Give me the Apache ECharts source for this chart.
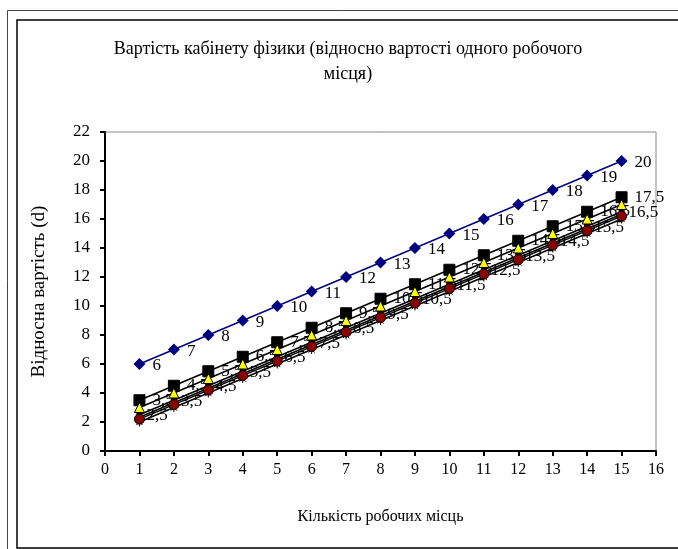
<!DOCTYPE html>
<html><head><meta charset="utf-8">
<script src="https://cdn.jsdelivr.net/npm/echarts@6/dist/echarts.min.js"></script>
<style>html,body{margin:0;padding:0;background:#fff}#c{width:678px;height:549px}</style>
</head><body><div id="c"></div>
<script>
const places = [1,2,3,4,5,6,7,8,9,10,11,12,13,14,15];
const sDiamond = [6,7,8,9,10,11,12,13,14,15,16,17,18,19,20];
const sSquare = [3.5,4.5,5.5,6.5,7.5,8.5,9.5,10.5,11.5,12.5,13.5,14.5,15.5,16.5,17.5];
const sTriangle = [3,4,5,6,7,8,9,10,11,12,13,14,15,16,17];
const sCross = [2.5,3.5,4.5,5.5,6.5,7.5,8.5,9.5,10.5,11.5,12.5,13.5,14.5,15.5,16.5];
const sPlus = [2.33,3.33,4.33,5.33,6.33,7.33,8.33,9.33,10.33,11.33,12.33,13.33,14.33,15.33,16.33];
const sCircle = [2.2,3.2,4.2,5.2,6.2,7.2,8.2,9.2,10.2,11.2,12.2,13.2,14.2,15.2,16.2];
const sStar = [2,3,4,5,6,7,8,9,10,11,12,13,14,15,16];
const xTicks = [0,1,2,3,4,5,6,7,8,9,10,11,12,13,14,15,16];
const yTicks = [0,2,4,6,8,10,12,14,16,18,20,22];

const font = 'Liberation Serif';
const pair = arr => places.map((x,i)=>[x,arr[i]]);
const fmt = p => String(p.value[1]).replace('.', ',');
const lbl = (show, pos, dist, off) => ({show, position:pos||'right', distance:dist==null?7:dist, offset:off||[0,1], fontFamily:font, fontSize:17, color:'#000', formatter: fmt});
const starPath = 'path://M0,-10 L0,10 M-10,0 L10,0 M-7,-7 L7,7 M-7,7 L7,-7';
function blk(name, data, symbol, size, color, label, z){
  return {name, type:'line', data:pair(data), symbol, symbolSize:size,
    lineStyle:{color:'#000', width:1.5},
    itemStyle:{color:color, borderColor:'#000', borderWidth:1},
    label:label, z:z};
}
const chart = echarts.init(document.getElementById('c'));
chart.setOption({
  animation:false,
  backgroundColor:'#fff',
  title:{text:'Вартість кабінету фізики (відносно вартості одного робочого\nмісця)', left:343, top:32, textAlign:'center',
    textStyle:{fontFamily:font, fontSize:18, fontWeight:'normal', color:'#000', lineHeight:25}},
  graphic:[
    {type:'rect', shape:{x:7.5,y:10.5,width:700,height:600}, style:{fill:'none', stroke:'#444', lineWidth:1}},
    {type:'rect', shape:{x:17,y:20,width:700,height:528}, style:{fill:'none', stroke:'#000', lineWidth:1.5}}
  ],
  grid:{left:105, right:22, top:132, bottom:98, show:true, borderColor:'#888', borderWidth:1},
  xAxis:{type:'value', min:0, max:16, interval:1,
    name:'Кількість робочих місць', nameLocation:'middle', nameGap:58,
    nameTextStyle:{fontFamily:font, fontSize:16, color:'#000'},
    axisLine:{show:true, lineStyle:{color:'#000', width:2}},
    axisTick:{show:true, length:5, lineStyle:{color:'#000', width:2}},
    axisLabel:{fontFamily:font, fontSize:16, color:'#000', margin:11, formatter:v=>xTicks.includes(v)?String(v):''},
    splitLine:{show:false}},
  yAxis:{type:'value', min:0, max:22, interval:2,
    name:'Відносна вартість (d)', nameLocation:'middle', nameGap:56,
    nameTextStyle:{fontFamily:font, fontSize:19, color:'#000'},
    axisLine:{show:true, lineStyle:{color:'#000', width:2}},
    axisTick:{show:true, length:5, lineStyle:{color:'#000', width:2}},
    axisLabel:{fontFamily:font, fontSize:17, color:'#000', margin:15, formatter:v=>yTicks.includes(v)?String(v):''},
    splitLine:{show:false}},
  series:[
    blk('s4', sCross, 'rect', 5, '#000', lbl(true,'right',4,[0,1]), 1),
    blk('s7', sStar, starPath, 9, '#000', {show:false}, 3),
    blk('s5', sPlus, 'triangle', 7, '#000', {show:false}, 3),
    blk('s6', sCircle, 'circle', 10, '#8b0000', {show:false}, 3),
    blk('s3', sTriangle, 'triangle', 10, '#ffff00', {show:false}, 3),
    blk('s2', sSquare, 'rect', 11, '#000', lbl(true,'right',7,[0,0]), 2),
    {name:'s1', type:'line', data:pair(sDiamond), symbol:'diamond', symbolSize:12,
      lineStyle:{color:'#000080', width:1.5}, itemStyle:{color:'#000080'},
      label:lbl(true,'right',7,[0,2]), z:4}
  ]
});
</script></body></html>
